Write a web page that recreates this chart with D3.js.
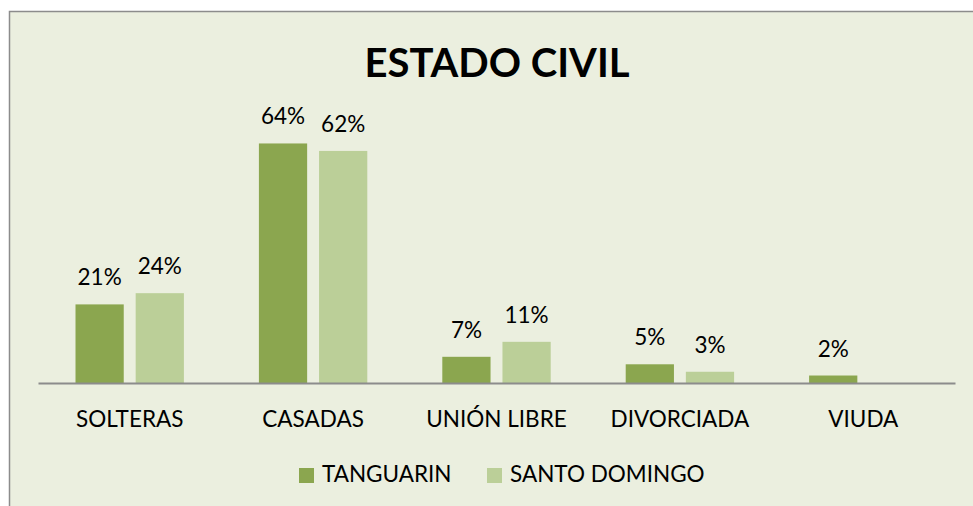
<!DOCTYPE html>
<html>
<head>
<meta charset="utf-8">
<script src="https://cdn.jsdelivr.net/npm/d3@7"></script>
<style>
  html, body { margin: 0; padding: 0; background: #ffffff; }
  svg { display: block; }
  text { font-family: Lato, "Open Sans", sans-serif; fill: #000; }
</style>
</head>
<body>
<div id="chart"></div>
<script>
const categories = ["SOLTERAS", "CASADAS", "UNIÓN LIBRE", "DIVORCIADA", "VIUDA"];
const seriesNames = ["TANGUARIN", "SANTO DOMINGO"];
const tanguarin = [21, 64, 7, 5, 2];
const santoDomingo = [24, 62, 11, 3, null];
const title = "ESTADO CIVIL";

function drawChart() {
    const width = 973, height = 506;
    const colors = ["#8ba64f", "#bbcf98"];
    const fontSize = 22.5;

    let svg = d3.select("#chart")
        .append("svg")
        .attr("width", width)
        .attr("height", height);

    // chart area background + frame
    svg.append("rect")
        .attr("x", 9.5).attr("y", 11.5)
        .attr("width", 980).attr("height", 510)
        .attr("fill", "#ebefdf")
        .attr("stroke", "#8c8c8c")
        .attr("stroke-width", 1.5);

    svg.append("text")
        .attr("x", 497).attr("y", 77)
        .attr("text-anchor", "middle")
        .attr("font-size", 40)
        .attr("font-weight", "bold")
        .text(title);

    let x = d3.scaleBand()
        .domain(categories)
        .range([38, 955]);

    let y = d3.scaleLinear()
        .domain([0, 70])
        .range([383, 121]);

    let barW = x.bandwidth() * 0.263;
    let gap = x.bandwidth() * 0.065;

    let rows = [];
    categories.forEach((c, i) => {
        [tanguarin[i], santoDomingo[i]].forEach((v, s) => {
            if (v !== null) rows.push({ cat: c, series: s, value: v });
        });
    });

    function barX(d) {
        let center = x(d.cat) + x.bandwidth() / 2;
        return d.series === 0 ? center - gap / 2 - barW : center + gap / 2;
    }

    let chartGroup = svg.append("g");

    chartGroup.selectAll("rect.bar")
        .data(rows)
        .enter().append("rect")
        .attr("class", "bar")
        .attr("x", barX)
        .attr("y", d => y(d.value))
        .attr("width", barW)
        .attr("height", d => y(0) - y(d.value))
        .attr("fill", d => colors[d.series]);

    chartGroup.selectAll("text.val")
        .data(rows)
        .enter().append("text")
        .attr("class", "val")
        .attr("x", d => barX(d) + barW / 2)
        .attr("y", d => y(d.value) - 19)
        .attr("text-anchor", "middle")
        .attr("font-size", fontSize)
        .text(d => d.value + "%");

    // x axis
    let xAxis = d3.axisBottom(x).tickSize(0).tickPadding(0);
    let axisG = chartGroup.append("g")
        .attr("transform", `translate(0, ${y(0)})`)
        .call(xAxis);
    axisG.select(".domain")
        .attr("stroke", "#8c8c8c")
        .attr("stroke-width", 2);
    axisG.selectAll(".tick text")
        .attr("font-family", "Lato, 'Open Sans', sans-serif")
        .attr("font-size", fontSize)
        .attr("fill", "#000")
        .attr("dy", null)
        .attr("y", 44);

    // legend
    let legendX = [299, 487];
    let legend = svg.append("g");
    seriesNames.forEach((name, i) => {
        legend.append("rect")
            .attr("x", legendX[i]).attr("y", 468)
            .attr("width", 15).attr("height", 15)
            .attr("fill", colors[i]);
        legend.append("text")
            .attr("x", legendX[i] + 23).attr("y", 482)
            .attr("font-size", fontSize)
            .text(name);
    });
}

drawChart();
</script>
</body>
</html>
